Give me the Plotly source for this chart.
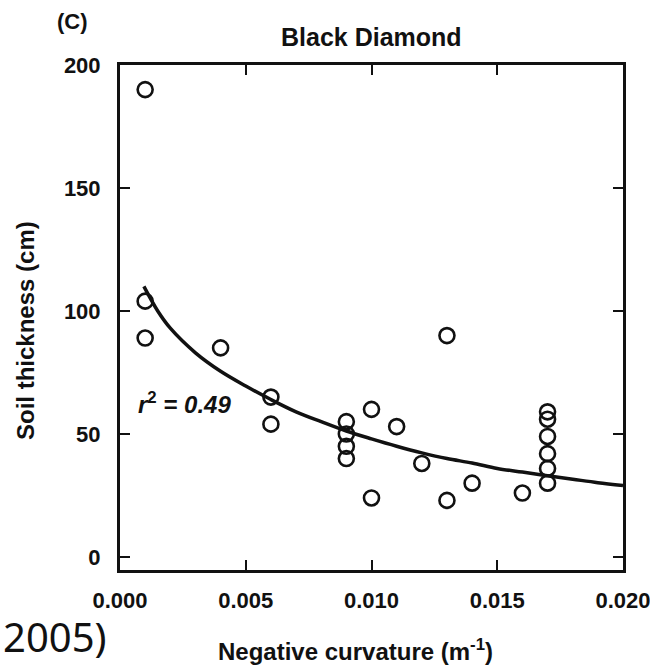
import plotly.graph_objects as go

# Observed points (negative curvature in 1/m, soil thickness in cm)
pt_x = [0.001, 0.001, 0.001, 0.004, 0.006, 0.006,
        0.009, 0.009, 0.009, 0.009, 0.010, 0.010,
        0.011, 0.012, 0.013, 0.013, 0.014, 0.016,
        0.017, 0.017, 0.017, 0.017, 0.017, 0.017]
pt_y = [190, 104, 89, 85, 65, 54,
        55, 50, 45, 40, 60, 24,
        53, 38, 90, 23, 30, 26,
        59, 56, 49, 42, 36, 30]

# Fitted curve
fit_x = [0.00095, 0.0015, 0.002, 0.003, 0.004, 0.005, 0.006, 0.007, 0.008,
         0.009, 0.010, 0.011, 0.012, 0.013, 0.014, 0.015, 0.016, 0.017,
         0.018, 0.019, 0.020]
fit_y = [110, 100, 93, 83, 75.5, 69.5, 64, 59, 55,
         51.2, 48, 45, 42.3, 40, 38.2, 36, 34.5, 33,
         31.6, 30.2, 29]

x_ticks = [0.0, 0.005, 0.010, 0.015, 0.020]
x_tick_labels = ["0.000", "0.005", "0.010", "0.015", "0.020"]
y_ticks = [0, 50, 100, 150, 200]
y_tick_labels = ["0", "50", "100", "150", "200"]

INK = "#111111"
FONT = "Liberation Sans, Arial, sans-serif"

fig = go.Figure()
fig.add_trace(go.Scatter(
    x=fit_x, y=fit_y, mode="lines",
    line=dict(color=INK, width=3.5, shape="spline"),
    hoverinfo="skip"))
fig.add_trace(go.Scatter(
    x=pt_x, y=pt_y, mode="markers",
    marker=dict(symbol="circle-open", size=15, color=INK,
                line=dict(width=2.6, color=INK))))

axis_common = dict(
    ticks="inside", ticklen=10, tickwidth=2, tickcolor=INK,
    showline=True, linewidth=3, linecolor=INK, mirror="ticks",
    showgrid=False, zeroline=False, automargin=False,
    ticklabeloverflow="allow",
    tickfont=dict(family=FONT, size=22, color=INK, weight="bold"),
)

fig.update_xaxes(range=[0, 0.020], tickvals=x_ticks, ticktext=x_tick_labels,
                 ticklabelstandoff=9, **axis_common)
fig.update_yaxes(range=[-5.3, 200], tickvals=y_ticks, ticktext=y_tick_labels,
                 ticklabelstandoff=12, **axis_common)

def px_x(p):
    return (p - 120) / 503.0

def px_y(p):
    return (570 - p) / 505.0

bold = dict(family=FONT, color=INK, weight="bold")

fig.update_layout(
    width=650, height=667, autosize=False,
    margin=dict(l=120, r=27, t=65, b=97, pad=0, autoexpand=False),
    plot_bgcolor="white", paper_bgcolor="white",
    showlegend=False,
    annotations=[
        dict(text="Black Diamond", xref="paper", yref="paper",
             x=px_x(371.5), y=px_y(37), xanchor="center", yanchor="middle",
             showarrow=False, font=dict(size=25, **bold)),
        dict(text="(C)", xref="paper", yref="paper",
             x=px_x(72), y=px_y(22), xanchor="center", yanchor="middle",
             showarrow=False, font=dict(size=22, **bold)),
        dict(text="Soil thickness (cm)", xref="paper", yref="paper",
             x=px_x(25), y=px_y(331), xanchor="center", yanchor="middle",
             textangle=-90, showarrow=False, font=dict(size=24, **bold)),
        dict(text="Negative curvature (m<sup>-1</sup>)", xref="paper", yref="paper",
             x=px_x(355), y=px_y(650), xanchor="center", yanchor="middle",
             showarrow=False, font=dict(size=24, **bold)),
        dict(text="<i>r</i><sup>2</sup><i> = 0.49</i>", xref="paper", yref="paper",
             x=px_x(136), y=px_y(403), xanchor="left", yanchor="middle",
             showarrow=False, font=dict(size=24, **bold)),
        dict(text="2005)", xref="paper", yref="paper",
             x=px_x(1), y=px_y(666), xanchor="left", yanchor="bottom",
             showarrow=False,
             font=dict(family="Noto Sans, sans-serif", size=40, color=INK)),
    ],
)

fig.write_html("out.html")
